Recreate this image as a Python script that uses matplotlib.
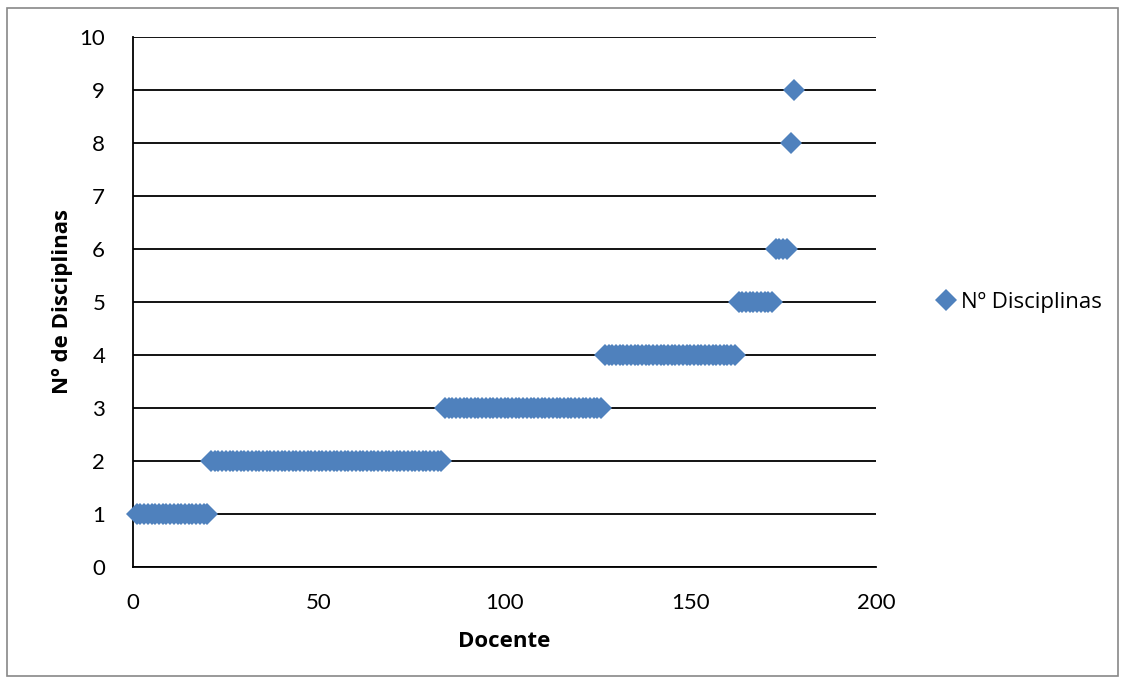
import matplotlib.pyplot as plt
import numpy as np
from matplotlib.patches import Rectangle

plt.rcParams['font.family'] = ['Lato', 'DejaVu Sans']

# number of disciplines per teacher, and how many teachers have each value
disciplinas = [1, 2, 3, 4, 5, 6, 8, 9]
n_docentes = [20, 63, 43, 36, 10, 4, 1, 1]

y = np.repeat(disciplinas, n_docentes)
x = np.arange(1, len(y) + 1)

fig = plt.figure(figsize=(11.26, 6.84), dpi=100)
ax = fig.add_axes([133/1126, 1 - 567/684, (876-133)/1126, (567-37)/684])

ax.plot(x, y, 'D', color='#4F81BD', markersize=11.5, markeredgewidth=0,
        label='Nº Disciplinas', zorder=3, clip_on=False)

ax.set_xlim(0, 200)
ax.set_ylim(0, 10)
ax.set_xticks([0, 50, 100, 150, 200])
ax.set_yticks(range(11))
ax.yaxis.grid(True, color='black', linewidth=1.3)
ax.set_axisbelow(True)
ax.tick_params(length=0, labelsize=16)
ax.tick_params(axis='y', pad=20)
ax.tick_params(axis='x', pad=19)
for s in ['top', 'right']:
    ax.spines[s].set_visible(False)
for s in ['left', 'bottom']:
    ax.spines[s].set_linewidth(1.3)

lab = dict(fontsize=16, fontweight='bold', family=['Open Sans', 'DejaVu Sans'])
ax.set_xlabel('Docente', labelpad=13, **lab)
ax.set_ylabel('Nº de Disciplinas', labelpad=5, **lab)

ax.legend(loc='center left', bbox_to_anchor=(1.05, 0.5), frameon=False,
          prop={'family': ['Open Sans', 'DejaVu Sans'], 'size': 16},
          handletextpad=0.05, handlelength=1.2)

fig.patches.append(Rectangle((7/1126, 8/684), 1 - 15/1126, 1 - 16/684,
                             transform=fig.transFigure, fill=False,
                             edgecolor='#888888', linewidth=1.2))

fig.savefig('out.png', dpi=100)
